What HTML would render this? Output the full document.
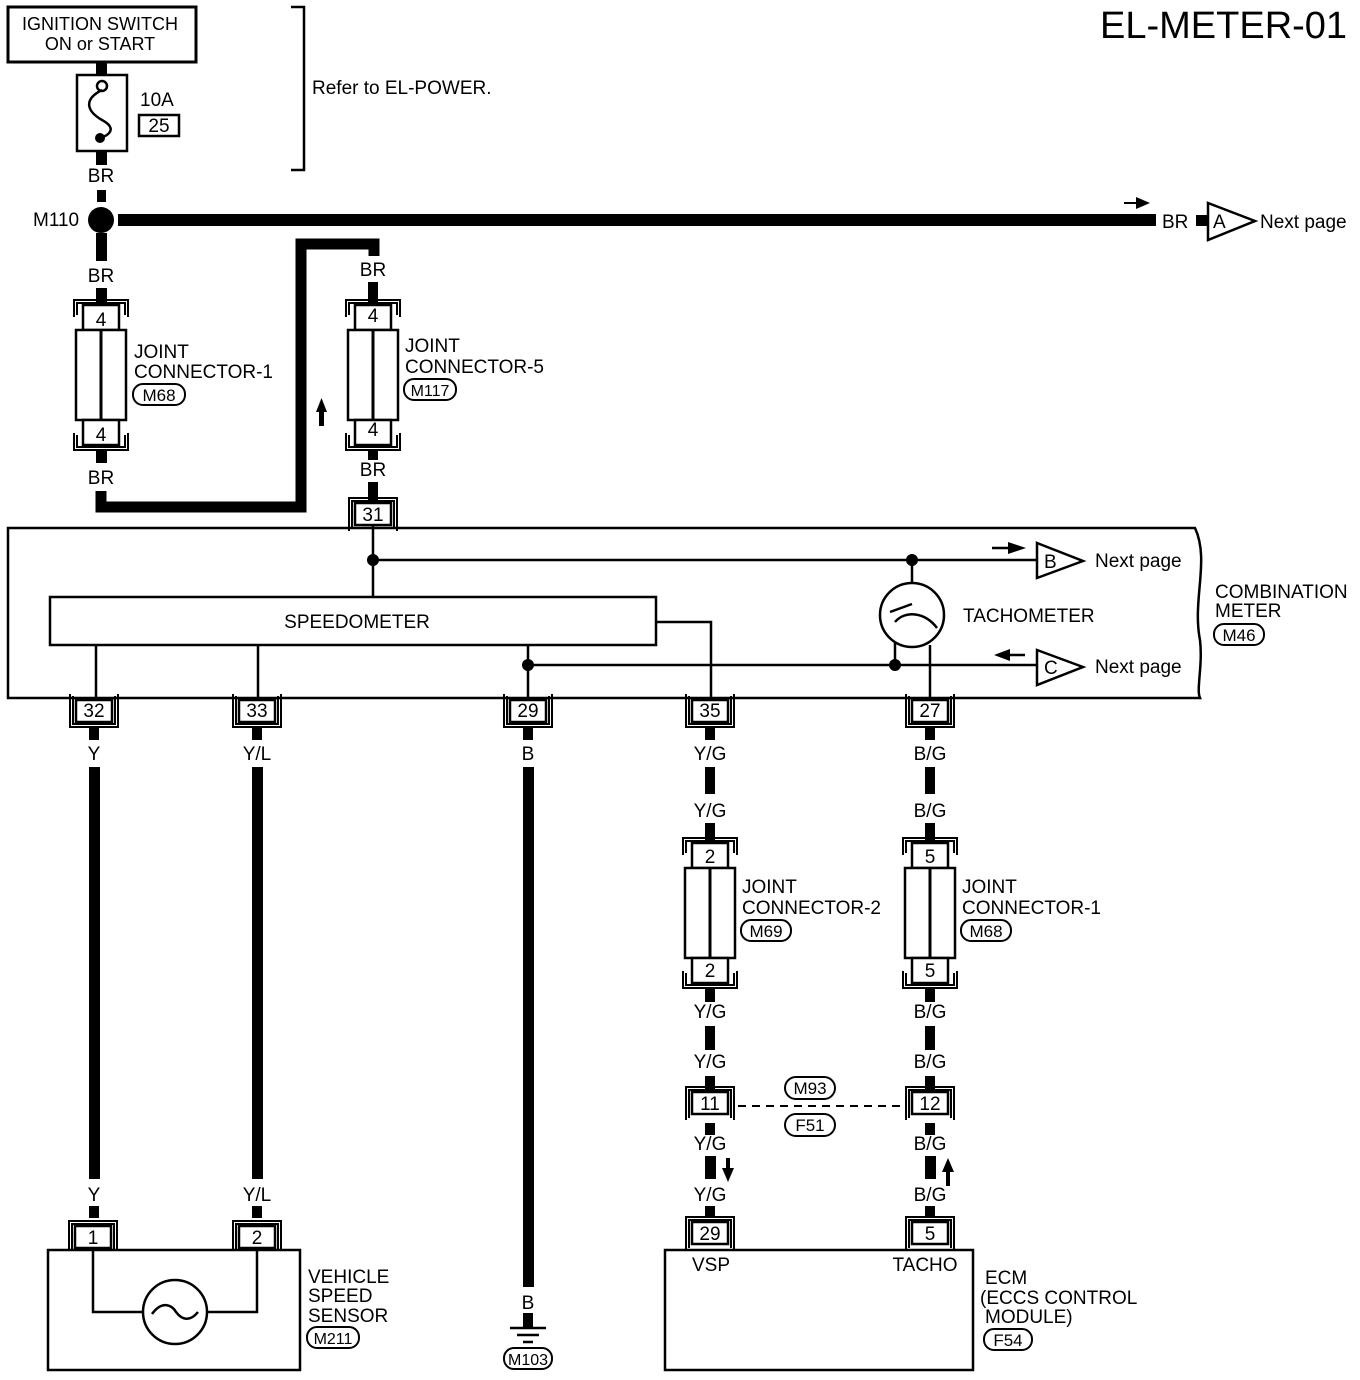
<!DOCTYPE html>
<html><head><meta charset="utf-8"><style>
html,body{margin:0;padding:0;background:#fff}
svg{display:block}
text{font-family:"Liberation Sans",sans-serif;font-size:19px;fill:#000}
</style></head><body>
<svg width="1360" height="1380" viewBox="0 0 1360 1380" xmlns="http://www.w3.org/2000/svg">
<defs>
<g id="ct" fill="none" stroke="#000">
 <rect x="-18" y="0" width="36" height="22" stroke-width="2.5" fill="#fff"/>
 <path d="M-24 28 V-5 H24 V28 M-21 26 V-2 H21 V26" stroke-width="2"/>
</g>
<g id="cb" fill="none" stroke="#000">
 <rect x="-18" y="0" width="36" height="22" stroke-width="2.5" fill="#fff"/>
 <path d="M-24 -6 V27 H24 V-6 M-21 -4 V24 H21 V-4" stroke-width="2"/>
</g>
<g id="jc" fill="none" stroke="#000">
 <path d="M-27 12 V-5 H27 V12 M-24 10 V-2 H24 V10" stroke-width="2"/>
 <rect x="-18" y="0" width="36" height="25" stroke-width="2.5" fill="#fff"/>
 <rect x="-25" y="25" width="50" height="90" stroke-width="2.5" fill="#fff"/>
 <line x1="0" y1="25" x2="0" y2="115" stroke-width="3"/>
 <rect x="-18" y="115" width="36" height="25" stroke-width="2.5" fill="#fff"/>
 <path d="M-27 128 V145 H27 V128 M-24 130 V142 H24 V130" stroke-width="2"/>
</g>
</defs>

<text x="1100" y="38" style="font-size:38px">EL-METER-01</text>

<rect x="8" y="7" width="188" height="55" fill="none" stroke="#000" stroke-width="3"/>
<text x="100" y="30" text-anchor="middle" style="font-size:18px">IGNITION SWITCH</text>
<text x="100" y="50" text-anchor="middle" style="font-size:18px">ON or START</text>
<rect x="96" y="62" width="11" height="14"/>
<rect x="77" y="75" width="50" height="76" fill="none" stroke="#000" stroke-width="2.5"/>
<circle cx="102" cy="86" r="5" fill="#fff" stroke="#000" stroke-width="2.5"/>
<path d="M102 90 C82 100 88 112 102 120 C117 128 110 135 100 138" fill="none" stroke="#000" stroke-width="2.5"/>
<circle cx="100" cy="138" r="5"/>
<rect x="96" y="151" width="11" height="14"/>
<text x="140" y="106">10A</text>
<rect x="139" y="115" width="40" height="21" fill="none" stroke="#000" stroke-width="2.5"/>
<text x="159" y="132" text-anchor="middle">25</text>
<path d="M291 7 H304 V170 H291" fill="none" stroke="#000" stroke-width="2.5"/>
<text x="312" y="94">Refer to EL-POWER.</text>

<text x="101" y="182" text-anchor="middle">BR</text>
<rect x="97" y="190" width="9" height="12"/>
<circle cx="101" cy="220" r="13"/>
<text x="33" y="226">M110</text>
<rect x="118" y="214" width="1038" height="12"/>
<path d="M1124 203 H1140" stroke="#000" stroke-width="2"/><path d="M1136 197 L1150 203 L1136 209Z"/>
<text x="1162" y="228">BR</text>
<rect x="1196" y="215" width="11" height="11"/>
<path d="M1208 203 L1255 221 L1208 240Z" fill="#fff" stroke="#000" stroke-width="2.5"/>
<text x="1213" y="228">A</text>
<text x="1260" y="228">Next page</text>

<rect x="96" y="233" width="11" height="28"/>
<text x="101" y="282" text-anchor="middle">BR</text>
<rect x="96" y="288" width="11" height="17"/>
<use href="#jc" x="101" y="305"/>
<text x="101" y="326" text-anchor="middle">4</text>
<text x="101" y="441" text-anchor="middle">4</text>
<rect x="96" y="450" width="11" height="13"/>
<text x="134" y="358">JOINT</text>
<text x="134" y="378">CONNECTOR-1</text>
<rect x="133" y="384" width="52" height="21" rx="10" fill="none" stroke="#000" stroke-width="2"/>
<text x="159" y="401" text-anchor="middle" style="font-size:17px">M68</text>
<text x="101" y="484" text-anchor="middle">BR</text>
<path d="M101 491 V507 H301 V244 H374 V256" fill="none" stroke="#000" stroke-width="11"/>
<rect x="319" y="410" width="5" height="16"/><path d="M316 412 L321.5 398 L327 412Z"/>

<text x="373" y="276" text-anchor="middle">BR</text>
<rect x="368" y="282" width="10" height="23"/>
<use href="#jc" x="373" y="305"/>
<text x="373" y="322" text-anchor="middle">4</text>
<text x="373" y="436" text-anchor="middle">4</text>
<rect x="368" y="450" width="10" height="10"/>
<text x="405" y="352">JOINT</text>
<text x="405" y="373">CONNECTOR-5</text>
<rect x="404" y="379" width="52" height="21" rx="10" fill="none" stroke="#000" stroke-width="2"/>
<text x="430" y="396" text-anchor="middle" style="font-size:16px">M117</text>
<text x="373" y="476" text-anchor="middle">BR</text>
<rect x="368" y="482" width="10" height="20"/>
<use href="#ct" x="373" y="503"/>
<text x="373" y="521" text-anchor="middle">31</text>

<path d="M8 528 H1195 C1210 560 1192 600 1200 640 C1203 665 1196 690 1200 698 H8 Z" fill="none" stroke="#000" stroke-width="2.5"/>
<g fill="none" stroke="#000" stroke-width="2.5">
<path d="M373 525 V597"/>
<path d="M373 560 H1038"/>
<path d="M912 560 V583"/>
<circle cx="912" cy="615" r="32"/>
<path d="M890 612 L912 604 M895 622 C905 610 925 612 937 628"/>
<path d="M895 642 V665"/>
<path d="M930 645 V700"/>
<rect x="50" y="597" width="606" height="48"/>
<path d="M96 645 V700 M258 645 V700 M528 645 V700 M528 665 H1038 M656 622 H711 V700"/>
<path d="M1037 543 L1083 561 L1037 578Z M1037 650 L1083 667 L1037 685Z"/>
<path d="M992 548 H1010 M1006 655 H1025"/>
</g>
<circle cx="373" cy="560" r="6"/><circle cx="912" cy="560" r="6"/>
<circle cx="528" cy="665" r="6"/><circle cx="895" cy="665" r="6"/>
<path d="M1008 542 L1026 548 L1008 554Z"/><path d="M1010 649 L994 655 L1010 661Z"/>
<text x="357" y="628" text-anchor="middle">SPEEDOMETER</text>
<text x="963" y="622">TACHOMETER</text>
<text x="1044" y="568">B</text><text x="1044" y="674">C</text>
<text x="1095" y="567">Next page</text><text x="1095" y="673">Next page</text>
<text x="1215" y="598">COMBINATION</text>
<text x="1215" y="617">METER</text>
<rect x="1214" y="624" width="50" height="21" rx="10" fill="none" stroke="#000" stroke-width="2"/>
<text x="1239" y="641" text-anchor="middle" style="font-size:17px">M46</text>

<use href="#cb" x="94" y="700"/><text x="94" y="717" text-anchor="middle">32</text>
<use href="#cb" x="257" y="700"/><text x="257" y="717" text-anchor="middle">33</text>
<use href="#cb" x="528" y="700"/><text x="528" y="717" text-anchor="middle">29</text>
<use href="#cb" x="710" y="700"/><text x="710" y="717" text-anchor="middle">35</text>
<use href="#cb" x="930" y="700"/><text x="930" y="717" text-anchor="middle">27</text>
<rect x="89" y="727" width="10" height="13"/><rect x="252" y="727" width="10" height="13"/>
<rect x="523" y="727" width="10" height="13"/><rect x="705" y="727" width="10" height="13"/><rect x="925" y="727" width="10" height="13"/>
<text x="94" y="760" text-anchor="middle">Y</text>
<text x="257" y="760" text-anchor="middle">Y/L</text>
<text x="528" y="760" text-anchor="middle">B</text>
<text x="710" y="760" text-anchor="middle">Y/G</text>
<text x="930" y="760" text-anchor="middle">B/G</text>
<rect x="89" y="767" width="11" height="412"/>
<rect x="252" y="767" width="11" height="412"/>
<rect x="523" y="767" width="11" height="520"/>

<rect x="705" y="767" width="10" height="27"/>
<text x="710" y="817" text-anchor="middle">Y/G</text>
<rect x="705" y="823" width="10" height="20"/>
<use href="#jc" x="710" y="843"/>
<text x="710" y="863" text-anchor="middle">2</text>
<text x="710" y="977" text-anchor="middle">2</text>
<text x="742" y="893">JOINT</text>
<text x="742" y="914">CONNECTOR-2</text>
<rect x="741" y="920" width="50" height="21" rx="10" fill="none" stroke="#000" stroke-width="2"/>
<text x="766" y="937" text-anchor="middle" style="font-size:17px">M69</text>
<rect x="705" y="988" width="10" height="14"/>
<text x="710" y="1018" text-anchor="middle">Y/G</text>
<rect x="705" y="1026" width="10" height="24"/>
<text x="710" y="1068" text-anchor="middle">Y/G</text>
<rect x="705" y="1076" width="10" height="14"/>
<use href="#ct" x="710" y="1092"/><text x="710" y="1110" text-anchor="middle">11</text>
<rect x="705" y="1123" width="10" height="12"/>
<text x="710" y="1150" text-anchor="middle">Y/G</text>
<rect x="705" y="1156" width="11" height="23"/>
<rect x="726" y="1158" width="4" height="12"/><path d="M722 1168 L728 1182 L734 1168Z"/>
<text x="710" y="1201" text-anchor="middle">Y/G</text>
<rect x="705" y="1206" width="10" height="12"/>
<use href="#ct" x="710" y="1222"/><text x="710" y="1240" text-anchor="middle">29</text>

<rect x="925" y="767" width="10" height="27"/>
<text x="930" y="817" text-anchor="middle">B/G</text>
<rect x="925" y="823" width="10" height="20"/>
<use href="#jc" x="930" y="843"/>
<text x="930" y="863" text-anchor="middle">5</text>
<text x="930" y="977" text-anchor="middle">5</text>
<text x="962" y="893">JOINT</text>
<text x="962" y="914">CONNECTOR-1</text>
<rect x="961" y="920" width="50" height="21" rx="10" fill="none" stroke="#000" stroke-width="2"/>
<text x="986" y="937" text-anchor="middle" style="font-size:17px">M68</text>
<rect x="925" y="988" width="10" height="14"/>
<text x="930" y="1018" text-anchor="middle">B/G</text>
<rect x="925" y="1026" width="10" height="24"/>
<text x="930" y="1068" text-anchor="middle">B/G</text>
<rect x="925" y="1076" width="10" height="14"/>
<use href="#ct" x="930" y="1092"/><text x="930" y="1110" text-anchor="middle">12</text>
<rect x="925" y="1123" width="10" height="12"/>
<text x="930" y="1150" text-anchor="middle">B/G</text>
<rect x="925" y="1156" width="11" height="23"/>
<rect x="946" y="1170" width="4" height="16"/><path d="M942 1172 L948 1158 L954 1172Z"/>
<text x="930" y="1201" text-anchor="middle">B/G</text>
<rect x="925" y="1206" width="10" height="12"/>
<use href="#ct" x="930" y="1222"/><text x="930" y="1240" text-anchor="middle">5</text>

<path d="M738 1106 H905" stroke="#000" stroke-width="2" stroke-dasharray="8,6"/>
<rect x="785" y="1077" width="50" height="22" rx="11" fill="#fff" stroke="#000" stroke-width="2"/>
<text x="810" y="1094" text-anchor="middle" style="font-size:17px">M93</text>
<rect x="785" y="1114" width="50" height="22" rx="11" fill="#fff" stroke="#000" stroke-width="2"/>
<text x="810" y="1131" text-anchor="middle" style="font-size:17px">F51</text>

<rect x="665" y="1250" width="308" height="120" fill="none" stroke="#000" stroke-width="2.5"/>
<text x="711" y="1271" text-anchor="middle">VSP</text>
<text x="925" y="1271" text-anchor="middle">TACHO</text>
<text x="985" y="1284">ECM</text>
<text x="980" y="1304">(ECCS CONTROL</text>
<text x="985" y="1323">MODULE)</text>
<rect x="984" y="1329" width="48" height="21" rx="10" fill="none" stroke="#000" stroke-width="2"/>
<text x="1008" y="1346" text-anchor="middle" style="font-size:17px">F54</text>

<text x="94" y="1201" text-anchor="middle">Y</text>
<text x="257" y="1201" text-anchor="middle">Y/L</text>
<rect x="89" y="1206" width="10" height="12"/><rect x="252" y="1206" width="10" height="12"/>
<use href="#ct" x="93" y="1226"/><text x="93" y="1244" text-anchor="middle">1</text>
<use href="#ct" x="257" y="1226"/><text x="257" y="1244" text-anchor="middle">2</text>
<rect x="48" y="1250" width="252" height="120" fill="#fff" stroke="#000" stroke-width="2.5"/>
<path d="M93 1250 V1312 H143 M207 1312 H257 V1250" fill="none" stroke="#000" stroke-width="2.5"/>
<circle cx="175" cy="1312" r="32" fill="none" stroke="#000" stroke-width="2.5"/>
<path d="M152 1314 C162 1300 172 1305 176 1312 C182 1320 190 1322 198 1312" fill="none" stroke="#000" stroke-width="2.5"/>
<text x="308" y="1283">VEHICLE</text>
<text x="308" y="1302">SPEED</text>
<text x="308" y="1322">SENSOR</text>
<rect x="307" y="1327" width="52" height="21" rx="10" fill="none" stroke="#000" stroke-width="2"/>
<text x="333" y="1344" text-anchor="middle" style="font-size:16px">M211</text>

<text x="528" y="1309" text-anchor="middle">B</text>
<rect x="523" y="1313" width="10" height="14"/>
<path d="M510 1328 H546 M517 1335 H539 M523 1342 H533" stroke="#000" stroke-width="2.5"/>
<rect x="504" y="1348" width="48" height="21" rx="10" fill="none" stroke="#000" stroke-width="2"/>
<text x="528" y="1365" text-anchor="middle" style="font-size:16px">M103</text>
</svg>
</body></html>
